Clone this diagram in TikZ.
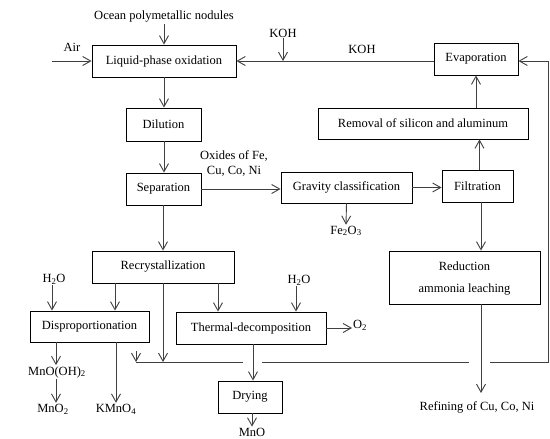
\documentclass[tikz,border=0pt]{standalone}
\usepackage{fontspec}
\setmainfont{Liberation Serif}
\usetikzlibrary{arrows.meta}
\begin{document}
\begin{tikzpicture}[x=1pt,y=-1pt,
  every node/.style={font=\fontsize{12.5}{15}\selectfont},
  box/.style={draw=black, line width=0.9pt, inner sep=0pt, align=center},
  lbl/.style={inner sep=1pt, align=center},
  conn/.style={draw=black!75, line width=0.9pt},
  arr/.style={conn, -{Straight Barb[length=8pt,width=9pt]}}
]
\useasboundingbox (0,0) rectangle (550,439);
% boxes
\node[box, minimum width=144, minimum height=32] (lpo) at (164,61) {Liquid-phase oxidation};
\node[box, minimum width=75, minimum height=33] (dil) at (163.5,124.5) {Dilution};
\node[box, minimum width=75, minimum height=32] (sep) at (163.5,189) {Separation};
\node[box, minimum width=142, minimum height=32] (rec) at (163,267) {Recrystallization};
\node[box, minimum width=119, minimum height=31] (dis) at (89.5,326.5) {Disproportionation};
\node[box, minimum width=150, minimum height=32] (thd) at (251,328) {Thermal-decomposition};
\node[box, minimum width=64, minimum height=32] (dry) at (250,397) {Drying};
\node[box, minimum width=131, minimum height=31] (grav) at (346.5,187.5) {Gravity classification};
\node[box, minimum width=71, minimum height=32] (filt) at (477.5,186) {Filtration};
\node[box, minimum width=84, minimum height=32] (evap) at (476,59) {Evaporation};
\node[box, minimum width=210, minimum height=31] (rem) at (423,123.5) {Removal of silicon and aluminum};
\node[box, minimum width=151, minimum height=53, text depth=-2pt] (red) at (464.5,277.5) {Reduction\\[7pt]ammonia leaching};
% labels
\node[lbl] (ocean) at (164,17) {Ocean polymetallic nodules};
\node[lbl] (air) at (72,47) {Air};
\node[lbl] (koha) at (283,33) {KOH};
\node[lbl] (kohb) at (362,49) {KOH};
\node[lbl] (ox) at (234,164) {Oxides of Fe,\\Cu, Co, Ni};
\node[lbl] (fe) at (346,231) {Fe\textsubscript{2}O\textsubscript{3}};
\node[lbl] (h2oa) at (54,279) {H\textsubscript{2}O};
\node[lbl] (h2ob) at (299,280) {H\textsubscript{2}O};
\node[lbl, anchor=west] (o2) at (352,325) {O\textsubscript{2}};
\node[lbl] (mnooh) at (57,372) {MnO(OH)\textsubscript{2}};
\node[lbl] (mno2) at (53,409) {MnO\textsubscript{2}};
\node[lbl] (kmno4) at (116,409) {KMnO\textsubscript{4}};
\node[lbl] (ref) at (477,407) {Refining of Cu, Co, Ni};
\node[lbl] (mno) at (252,432) {MnO};
% coordinates
\coordinate (airs) at (52,61);
\coordinate (hl) at (136,362);
\coordinate (hs) at (136,351);
\coordinate (g1) at (243,362);
\coordinate (g2) at (262,362);
\coordinate (g3) at (469,362);
\coordinate (g4) at (490,362);
\coordinate (hr) at (548,362);
% connectors
\draw[arr] (ocean) -- (lpo);
\draw[arr] (airs) -- (lpo.west);
\draw[arr] (koha) -- (koha |- lpo.east);
\draw[arr] (lpo.east -| evap.west) -- (lpo.east);
\draw[arr] (lpo.south) -- (lpo.south |- dil.north);
\draw[arr] (dil.south -| lpo.south) -- (lpo.south |- sep.north);
\draw[arr] (sep.south -| rec.south) -- (rec.north);
\draw[arr] (sep.east) -- (sep.east -| grav.west);
\draw[arr] (grav.east) -- (grav.east -| filt.west);
\draw[arr] (grav.south) -- (fe.north);
\draw[arr] ([xshift=2]filt.north) -- ([xshift=2]filt.north |- rem.south);
\draw[arr] (evap.south |- rem.north) -- (evap.south);
\draw[arr] ([xshift=3.5]filt.south) -- ([xshift=3.5]filt.south |- red.north);
\draw[arr] ([xshift=16.5]red.south) -- ([xshift=16.5]red.south |- 0,393);
\draw[arr] ([xshift=-48]rec.south) -- ([xshift=-48]rec.south |- dis.north);
\draw[arr] ([xshift=55]rec.south) -- ([xshift=55]rec.south |- thd.north);
\draw[arr] (rec.south) -- (rec.south |- hl);
\draw[arr] (h2oa.south -| 52,0) -- (52,0 |- dis.north);
\draw[arr] (h2ob.south -| 296,0) -- (296,0 |- thd.north);
\draw[arr] (thd.east) -- (thd.east -| o2.west);
\draw[arr] ([xshift=-33.5]dis.south) -- ([xshift=-33.5]dis.south |- mnooh.north);
\draw[arr] (mnooh.south -| 56,0) -- (56,0 |- mno2.north);
\draw[arr] ([xshift=26.5]dis.south) -- ([xshift=26.5]dis.south |- kmno4.north);
\draw[arr] (hs) -- (hl);
\draw[conn] (hl) -- (g1);
\draw[conn] (g2) -- (g3);
\draw[arr] (g4) -- (hr) -- (hr |- lpo.east) -- (lpo.east -| evap.east);
\draw[arr] ([xshift=2]thd.south) -- ([xshift=2]thd.south |- dry.north);
\draw[arr] ([xshift=2]dry.south) -- ([xshift=2]dry.south |- mno.north);
\end{tikzpicture}
\end{document}
